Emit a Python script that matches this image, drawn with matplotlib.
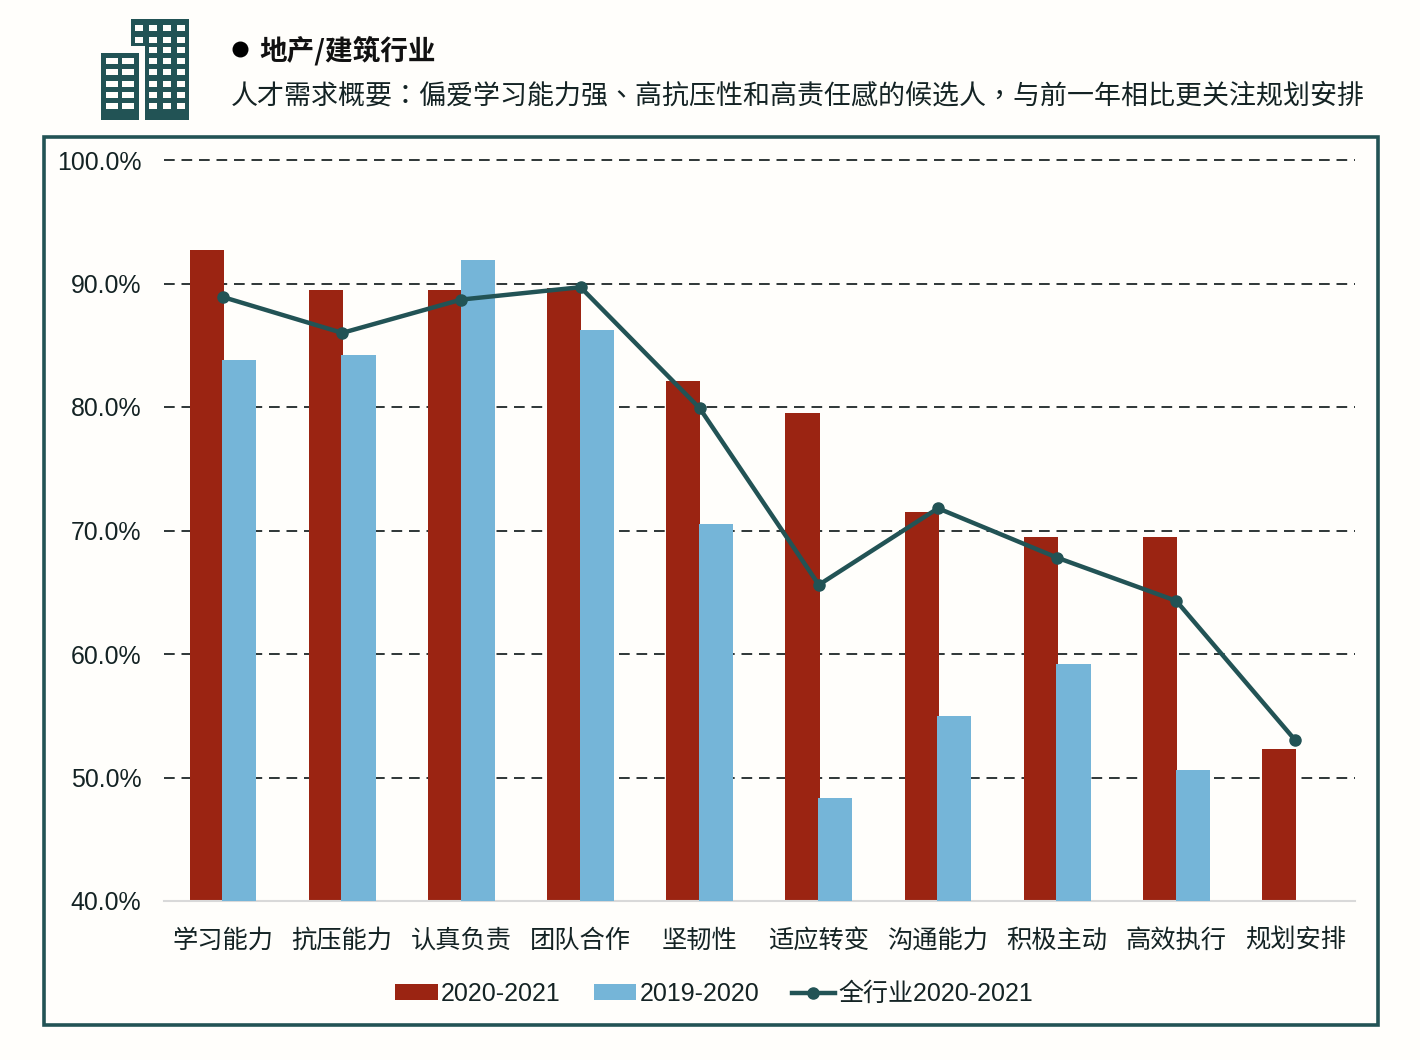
import numpy as np
import matplotlib
matplotlib.use("Agg")
import matplotlib.pyplot as plt
from matplotlib.patches import Rectangle

plt.rcParams['font.family'] = ['Liberation Sans', 'Noto Sans CJK SC', 'DejaVu Sans']

categories = ['学习能力', '抗压能力', '认真负责', '团队合作', '坚韧性',
              '适应转变', '沟通能力', '积极主动', '高效执行', '规划安排']
values_2021 = [92.7, 89.5, 89.5, 89.6, 82.1, 79.5, 71.5, 69.5, 69.5, 52.3]
values_2020 = [83.8, 84.2, 91.9, 86.2, 70.5, 48.3, 55.0, 59.2, 50.6, np.nan]
industry_2021 = [88.9, 86.0, 88.7, 89.7, 79.9, 65.6, 71.8, 67.8, 64.3, 53.0]
y_ticks = [40, 50, 60, 70, 80, 90, 100]

title = '地产/建筑行业'
subtitle = '人才需求概要：偏爱学习能力强、高抗压性和高责任感的候选人，与前一年相比更关注规划安排'

BG = '#FFFEFB'
RED = '#9B2412'
BLUE = '#75B5D8'
TEAL = '#225355'
TEXT = '#142324'

W, H = 1420, 1060
fig = plt.figure(figsize=(W / 100, H / 100), dpi=100, facecolor=BG)

# overlay in pixel coords for the frame, icon and header
bg = fig.add_axes([0, 0, 1, 1], zorder=0)
bg.set_xlim(0, W)
bg.set_ylim(H, 0)
bg.axis('off')
bg.add_patch(Rectangle((44, 137), 1334, 888, fill=False, edgecolor=TEAL, linewidth=2.6))


def building(x, y, w, h, xs, ys, win_w, win_h):
    bg.add_patch(Rectangle((x, y), w, h, facecolor=TEAL, edgecolor='none'))
    for wx in xs:
        for wy in ys:
            bg.add_patch(Rectangle((wx, wy), win_w, win_h, facecolor=BG, edgecolor='none'))


# back tower first, the gap around the front tower is painted over it
building(131, 19, 58, 101, [135, 149, 163, 177], [25, 37, 47, 58, 69, 81, 92, 103], 8, 5.5)
bg.add_patch(Rectangle((96, 46), 49, 80, facecolor=BG, edgecolor='none'))
building(101, 53, 38, 67, [106, 122], [58, 69, 81, 92, 103], 12, 5.5)

bg.plot([240], [49], 'o', color='black', markersize=10.5)
bg.text(259, 51, title, fontsize=19.9, fontweight='bold', color='#111111', va='center', ha='left',
        family=['Noto Sans CJK TC'])
bg.text(231, 96, subtitle, fontsize=19.43, color=TEXT, va='center', ha='left',
        family=['Noto Sans CJK TC'])

# main chart
ax = fig.add_axes([163.5 / W, 1 - 901 / H, (1355 - 163.5) / W, (901 - 160) / H], zorder=1)
ax.patch.set_alpha(0)

x = np.arange(len(categories))
bar_w = 0.287
offset = 0.137
bars_new = ax.bar(x - offset, values_2021, bar_w, color=RED, label='2020-2021', zorder=2)
bars_old = ax.bar(x + offset, values_2020, bar_w, color=BLUE, label='2019-2020', zorder=3)
line, = ax.plot(x, industry_2021, '-o', color=TEAL, linewidth=3.2, markersize=8,
                label='全行业2020-2021', zorder=4, clip_on=False)

ax.set_xlim(-0.5, len(categories) - 0.5)
ax.set_ylim(40, 100)
ax.set_yticks(y_ticks)
ax.set_yticklabels([f'{v:.1f}%' for v in y_ticks], fontsize=17.9, color=TEXT)
ax.set_xticks(x)
ax.set_xticklabels(categories, fontsize=18.2, color=TEXT)
ax.tick_params(axis='both', length=0)
ax.tick_params(axis='y', pad=16)
ax.tick_params(axis='x', pad=20)

ax.yaxis.grid(True, color='#2E3636', linewidth=1.4, linestyle=(0, (5.5, 3.5)), zorder=1)
for gridline in ax.get_ygridlines():
    gridline.set_clip_on(False)
ax.get_ygridlines()[0].set_visible(False)
ax.set_axisbelow(True)
for side in ['top', 'left', 'right']:
    ax.spines[side].set_visible(False)
ax.spines['bottom'].set_color('#D9D9D9')
ax.spines['bottom'].set_linewidth(1.5)

ax.legend(handles=[bars_new, bars_old, line], loc='center',
          bbox_to_anchor=(550.5 / 1191.5, -93 / 741), ncol=3, frameon=False,
          fontsize=18, labelcolor=TEXT, handlelength=1.7, handleheight=0.6,
          handletextpad=0.15, columnspacing=1.3, borderpad=0)

fig.savefig('out.png', dpi=100, facecolor=BG)
